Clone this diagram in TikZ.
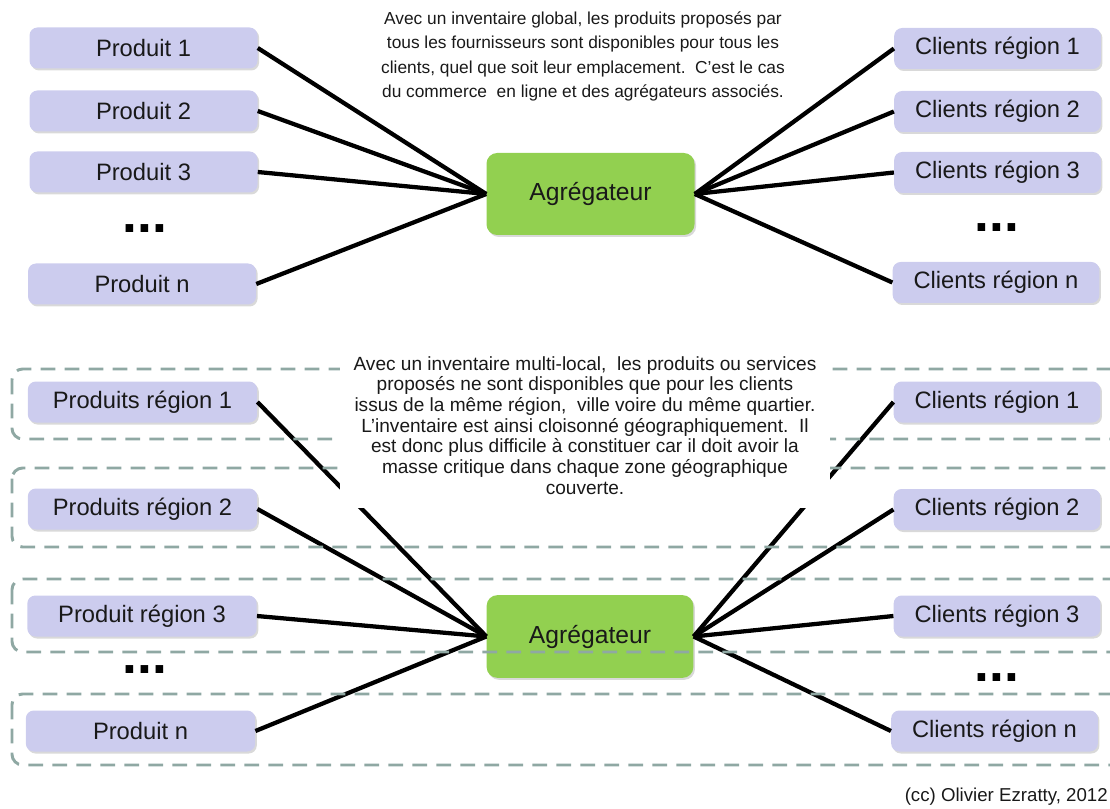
\documentclass[tikz,border=0pt]{standalone}
\usepackage{fontspec}
\setmainfont{Liberation Sans}
\usetikzlibrary{shadows}
\definecolor{lav}{RGB}{204,204,238}
\definecolor{agr}{RGB}{146,208,80}
\definecolor{dashc}{RGB}{143,168,163}
\definecolor{txt}{RGB}{25,25,25}
\begin{document}
\begin{tikzpicture}[x=0.75pt,y=-0.75pt,
  boxshadow/.style={drop shadow={shadow xshift=1.2pt,shadow yshift=-1.5pt,opacity=0.3}},
  prod/.style={rectangle,rounded corners=6pt,fill=lav,minimum width=171pt,minimum height=30.75pt,
    inner sep=0pt,text=txt,font=\fontsize{17.8}{20}\selectfont,boxshadow},
  cli/.style={prod,minimum width=155pt},
  aggbox/.style={rectangle,rounded corners=8pt,fill=agr,minimum width=156pt,minimum height=61.5pt,
    inner sep=0pt,text=txt,font=\fontsize{18.5}{20}\selectfont,boxshadow},
  link/.style={line width=3.2pt,black},
  dotsnode/.style={anchor=base,inner sep=0pt,font=\fontsize{40}{40}\bfseries\selectfont},
  dashbox/.style={draw=dashc,line width=2.2pt,dash pattern=on 11pt off 7pt,rounded corners=8pt},
  desc/.style={align=center,text=txt,inner sep=0pt}
]
\useasboundingbox (0,0) rectangle (1110,809);

% ---------- top part ----------
\node[prod] (p1) at (143.5,48) {Produit 1};
\node[prod] (p2) at (143.5,111) {Produit 2};
\node[prod] (p3) at (143.5,172) {Produit 3};
\node[dotsnode] (pd) at (145,233) {...};
\node[prod] (pn) at (142,284) {Produit n};

\node[aggbox] (ag1) at (590.5,194) {Agrégateur};

\node[cli] (c1) at (997.5,48.5) {Clients région 1};
\node[cli] (c2) at (997.5,111.5) {Clients région 2};
\node[cli] (c3) at (997.5,172.5) {Clients région 3};
\node[dotsnode] (cd) at (997,232) {...};
\node[cli] (cn) at (996,282.5) {Clients région n};

\foreach \n in {p1,p2,p3,pn} \draw[link] (\n.east) -- (ag1.west);
\foreach \n in {c1,c2,c3,cn} \draw[link] (\n.west) -- (ag1.east);

\node[desc,font=\fontsize{13}{18.2}\selectfont] (t1) at (583,56.5)
  {Avec un inventaire global, les produits proposés par\\
   tous les fournisseurs sont disponibles pour tous les\\
   clients, quel que soit leur emplacement.\ \ C’est le cas\\
   du commerce\ \ en ligne et des agrégateurs associés.};

% ---------- bottom part ----------
\node[prod,minimum width=172pt] (q1) at (142.5,402) {Produits région 1};
\node[prod,minimum width=172pt] (q2) at (142.5,509) {Produits région 2};
\node[prod,minimum width=172pt] (q3) at (142,616) {Produit région 3};
\node[dotsnode] (qd) at (145,673) {...};
\node[prod,minimum width=172pt] (qn) at (140.5,731) {Produit n};

\node[aggbox,minimum width=155pt,minimum height=62pt] (ag2) at (590,636.5) {Agrégateur};

\node[cli] (d1) at (997,402) {Clients région 1};
\node[cli] (d2) at (997,509.5) {Clients région 2};
\node[cli] (d3) at (997,616) {Clients région 3};
\node[dotsnode] (dd) at (997,681) {...};
\node[cli] (dn) at (994.5,731) {Clients région n};

\foreach \n in {q1,q2,q3,qn} \draw[link] (\n.east) -- (ag2.west);
\foreach \n in {d1,d2,d3,dn} \draw[link] (\n.west) -- (ag2.east);

\begin{scope}
\clip (0,0) rectangle (1110,809);
\draw[dashbox] (12,369) rectangle (1140,439);
\draw[dashbox] (12,468) rectangle (1140,547);
\draw[dashbox] (12,579) rectangle (1140,652);
\draw[dashbox] (12,694) rectangle (1140,765);
\end{scope}

\node[desc,fill=white,minimum width=367.5pt,minimum height=124pt,
  font=\fontsize{14.3}{15.5}\selectfont] (t2) at (585,425.5)
  {Avec un inventaire multi-local,\ \ les produits ou services\\
   proposés ne sont disponibles que pour les clients\\
   issus de la même région,\ \ ville voire du même quartier.\\
   L’inventaire est ainsi cloisonné géographiquement.\ \ Il\\
   est donc plus difficile à constituer car il doit avoir la\\
   masse critique dans chaque zone géographique\\
   couverte.};

\node[anchor=east,inner sep=0pt,text=txt,font=\fontsize{14}{16}\selectfont] (cr) at (1108,797)
  {(cc) Olivier Ezratty, 2012};
\end{tikzpicture}
\end{document}
